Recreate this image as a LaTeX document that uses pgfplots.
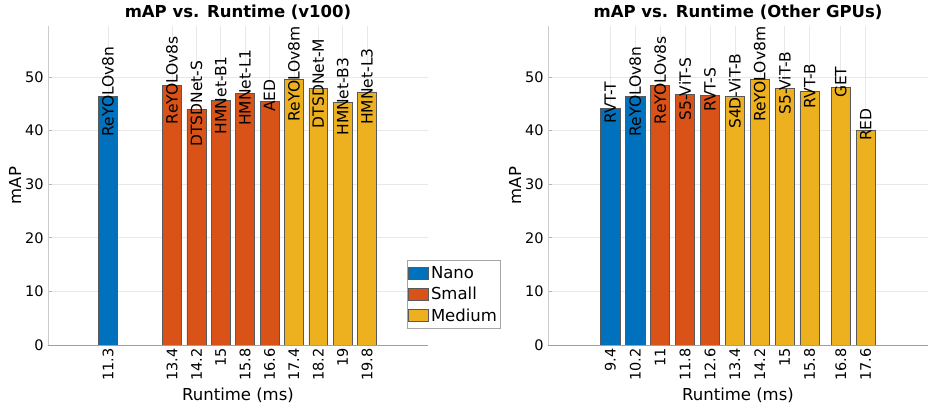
\documentclass[border=0pt]{standalone}
\usepackage{fontspec}
\setmainfont{DejaVu Sans}
\usepackage{pgfplots}
\usepackage{pgfplotstable}
\pgfplotsset{compat=1.18}
\definecolor{mblue}{RGB}{0,114,189}
\definecolor{morange}{RGB}{217,83,25}
\definecolor{myellow}{RGB}{237,177,32}

\pgfplotstableread{
x y label
11.3 46.3 ReYOLOv8n
}\LNano
\pgfplotstableread{
x y label
13.4 48.4 ReYOLOv8s
14.2 44.0 DTSDNet-S
15.0 45.6 HMNet-B1
15.8 47.0 HMNet-L1
16.6 45.5 AED
}\LSmall
\pgfplotstableread{
x y label
17.4 49.6 ReYOLOv8m
18.2 47.8 DTSDNet-M
19.0 45.3 HMNet-B3
19.8 47.2 HMNet-L3
}\LMedium

\pgfplotstableread{
x y label
9.4 44.2 RVT-T
10.2 46.3 ReYOLOv8n
}\RNano
\pgfplotstableread{
x y label
11.0 48.4 ReYOLOv8s
11.8 46.7 S5-ViT-S
12.6 46.6 RVT-S
}\RSmall
\pgfplotstableread{
x y label
13.4 46.3 S4D-ViT-B
14.2 49.5 ReYOLOv8m
15.0 47.8 S5-ViT-B
15.8 47.3 RVT-B
16.8 48.0 GET
17.6 40.1 RED
}\RMedium

\pgfplotsset{
  panel/.style={
    scale only axis, width=380bp, height=319bp,
    ymin=0, ymax=59.5,
    ytick={0,10,20,30,40,50},
    axis x line=bottom, axis y line=left,
    x axis line style={-, draw=gray!75, line width=0.8bp},
    y axis line style={-, draw=gray!40, line width=0.8bp},
    tick align=inside, major tick length=4bp,
    xtick style={draw=none},
    ytick style={draw=gray!60, line width=0.6bp},
    grid=major, major grid style={draw=gray!18, line width=0.6bp},
    /pgf/number format/assume math mode=true,
    ticklabel style={font=\fontsize{14.5bp}{17bp}\selectfont},
    xticklabel style={rotate=90, anchor=east, xshift=0bp},
    yticklabel style={xshift=-1bp},
    every axis title/.style={at={(0.5,1)}, anchor=south, yshift=3bp,
      font=\fontsize{16.5bp}{19bp}\selectfont\bfseries},
    every axis x label/.style={at={(rel axis cs:0.5,0)}, anchor=center, yshift=-50bp,
      font=\fontsize{16.5bp}{19bp}\selectfont},
    every axis y label/.style={at={(rel axis cs:0,0.5)}, xshift=-33bp, anchor=center, rotate=90,
      font=\fontsize{16.5bp}{19bp}\selectfont},
    xlabel={Runtime (ms)}, ylabel={mAP},
    nodes near coords={\pgfplotspointmeta},
    every node near coord/.style={font=\fontsize{15.5bp}{18bp}\selectfont, yshift=5.36bp, rotate=90, anchor=center, text=black},
  },
  barplot/.style={ybar, bar width=0.62, bar shift=0pt, fill=#1, draw=black!65, line width=0.6bp,
    point meta=explicit symbolic},
}

\begin{document}
\begin{tikzpicture}
\useasboundingbox (0,0) rectangle (935bp,408bp);
\begin{axis}[panel, at={(48bp,63bp)}, anchor=south west,
  xmin=9.33, xmax=21.8,
  xtick={11.3,13.4,14.2,15,15.8,16.6,17.4,18.2,19,19.8},
  xticklabels={11.3,13.4,14.2,15,15.8,16.6,17.4,18.2,19,19.8},
  title={mAP vs. Runtime (v100)},
  legend style={at={(rel axis cs:0.945,0.267)}, anchor=north west,
    draw=gray!70, fill=white, line width=0.6bp,
    font=\fontsize{16.5bp}{19bp}\selectfont, inner xsep=1bp, inner ysep=4bp,
    row sep=3.5bp},
  legend cell align=left,
  legend image code/.code={\draw[#1, ybar=none] (0bp,-6bp) rectangle (20bp,6bp);},
  ]
\addplot[barplot=mblue] table[x=x, y=y, meta=label] {\LNano};
\addlegendentry{Nano}
\addplot[barplot=morange] table[x=x, y=y, meta=label] {\LSmall};
\addlegendentry{Small}
\addplot[barplot=myellow] table[x=x, y=y, meta=label] {\LMedium};
\addlegendentry{Medium}
\end{axis}
\begin{axis}[panel, at={(548bp,63bp)}, anchor=south west,
  xmin=7.4, xmax=19.6,
  xtick={9.4,10.2,11,11.8,12.6,13.4,14.2,15,15.8,16.8,17.6},
  xticklabels={9.4,10.2,11,11.8,12.6,13.4,14.2,15,15.8,16.8,17.6},
  title={mAP vs. Runtime (Other GPUs)},
  ]
\addplot[barplot=mblue] table[x=x, y=y, meta=label] {\RNano};
\addplot[barplot=morange] table[x=x, y=y, meta=label] {\RSmall};
\addplot[barplot=myellow] table[x=x, y=y, meta=label] {\RMedium};
\end{axis}
\end{tikzpicture}
\end{document}
